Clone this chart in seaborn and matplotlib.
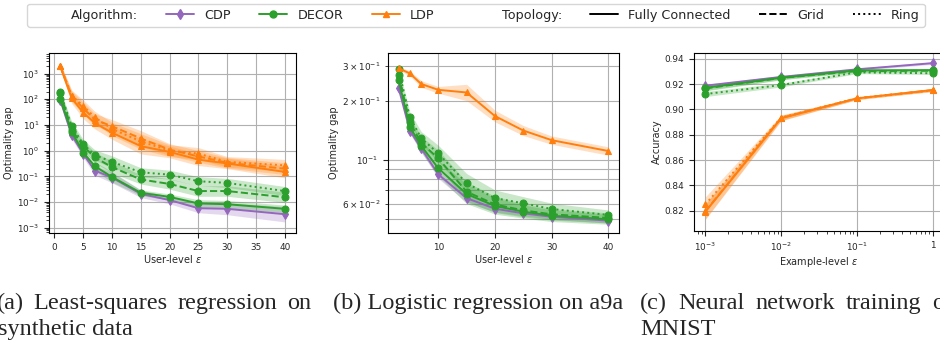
import numpy as np
import matplotlib
matplotlib.use("Agg")
import matplotlib.pyplot as plt
from matplotlib.lines import Line2D
import seaborn as sns

# (a) least-squares regression, synthetic data
a_eps = [1, 3, 5, 7, 10, 15, 20, 25, 30, 40]
a_cdp = [95, 4.0, 0.75, 0.17, 0.09, 0.021, 0.012, 0.0058, 0.0055, 0.0034]
a_decor_fc = [100, 5.4, 0.85, 0.25, 0.095, 0.023, 0.016, 0.0089, 0.0083, 0.0055]
a_decor_grid = [170, 6.5, 1.5, 0.55, 0.23, 0.076, 0.051, 0.027, 0.027, 0.0155]
a_decor_ring = [185, 9.0, 1.8, 0.68, 0.37, 0.145, 0.117, 0.065, 0.056, 0.027]
a_ldp_fc = [1900, 110, 30, 12, 5.0, 1.5, 0.9, 0.45, 0.32, 0.15]
a_ldp_grid = [2000, 130, 45, 16, 9.0, 3.0, 1.1, 0.6, 0.34, 0.2]
a_ldp_ring = [1950, 140, 55, 20, 7.0, 2.3, 1.0, 0.78, 0.37, 0.27]
# band half-widths (multiplicative)
a_cdp_sp = [1.3, 1.4, 1.4, 1.5, 1.6, 1.4, 1.4, 1.5, 1.7, 2.0]
a_decor_fc_sp = [1.3, 1.4, 1.4, 1.5, 1.6, 1.3, 1.3, 1.4, 1.4, 1.4]
a_decor_grid_sp = [1.3, 1.5, 1.5, 1.6, 1.7, 1.5, 1.6, 1.6, 1.6, 1.6]
a_decor_ring_sp = [1.3, 1.5, 1.5, 1.6, 1.7, 1.5, 1.5, 1.5, 1.5, 1.5]
a_ldp_sp = [1.3, 1.6, 1.7, 1.7, 1.8, 2.0, 1.7, 1.7, 1.6, 1.7]

# (b) logistic regression on a9a
b_eps = [3, 5, 7, 10, 15, 20, 25, 30, 40]
b_cdp = [0.233, 0.141, 0.1146, 0.0846, 0.064, 0.0566, 0.0536, 0.0515, 0.0492]
b_decor_fc = [0.255, 0.147, 0.118, 0.0908, 0.0672, 0.0584, 0.0547, 0.0521, 0.050]
b_decor_grid = [0.27, 0.155, 0.122, 0.102, 0.069, 0.0595, 0.0555, 0.053, 0.0508]
b_decor_ring = [0.289, 0.165, 0.129, 0.108, 0.0762, 0.064, 0.0603, 0.0564, 0.0526]
b_ldp = [0.292, 0.275, 0.243, 0.227, 0.22, 0.167, 0.141, 0.126, 0.111]
b_cdp_sp = [1.02, 1.04, 1.04, 1.05, 1.05, 1.04, 1.03, 1.03, 1.03]
b_decor_sp = [1.03, 1.06, 1.08, 1.1, 1.12, 1.1, 1.08, 1.07, 1.06]
b_ldp_sp = [1.02, 1.03, 1.04, 1.04, 1.1, 1.07, 1.06, 1.05, 1.05]

# (c) neural network training on MNIST
c_eps = [1e-3, 1e-2, 1e-1, 1]
c_ticklabels = ["$10^{-3}$", "$10^{-2}$", "$10^{-1}$", "1"]
c_cdp = [0.9187, 0.9256, 0.9316, 0.9365]
c_decor_fc = [0.917, 0.925, 0.9308, 0.931]
c_decor_grid = [0.9165, 0.9248, 0.9302, 0.9305]
c_decor_ring = [0.9121, 0.9192, 0.9292, 0.9285]
c_ldp_fc = [0.8192, 0.893, 0.9087, 0.9153]
c_ldp_grid = [0.8195, 0.8932, 0.9087, 0.9152]
c_ldp_ring = [0.825, 0.8935, 0.9088, 0.915]
c_cdp_sp = [0.001, 0.001, 0.001, 0.001]
c_decor_sp = [0.002, 0.0015, 0.001, 0.001]
c_ldp_sp = [0.006, 0.002, 0.001, 0.001]

COLORS = {"CDP": "#9467bd", "DECOR": "#2ca02c", "LDP": "#ff7f0e"}
MARKERS = {"CDP": "d", "DECOR": "o", "LDP": "^"}
LS = {"fc": "-", "grid": "--", "ring": ":"}

sns.set_style("ticks", {"axes.grid": True, "grid.color": "#b0b0b0",
                        "axes.edgecolor": "black"})
plt.rcParams["font.family"] = ["DejaVu Sans"]
plt.rcParams["xtick.labelsize"] = 6.4
plt.rcParams["ytick.labelsize"] = 6.4
plt.rcParams["axes.labelsize"] = 7
plt.rcParams["mathtext.fontset"] = "dejavusans"

W, H = 940, 341
fig = plt.figure(figsize=(W / 100, H / 100), dpi=100)


def px_axes(x0, x1, y0, y1):
    return fig.add_axes([x0 / W, 1 - y1 / H, (x1 - x0) / W, (y1 - y0) / H])


def draw(ax, x, y, sp, alg, topo, log=True):
    y = np.asarray(y, dtype=float)
    sp = np.asarray(sp, dtype=float)
    lo, hi = (y / sp, y * sp) if log else (y - sp, y + sp)
    c = COLORS[alg]
    ax.fill_between(x, lo, hi, color=c, alpha=0.25, lw=0)
    sns.lineplot(x=x, y=y, color=c, marker=MARKERS[alg], linestyle=LS[topo],
                 lw=1.4, markersize=5, markeredgecolor=c, ax=ax)


# ---- (a)
ax = px_axes(49, 296, 53, 233)
ax.set_yscale("log")
draw(ax, a_eps, a_cdp, a_cdp_sp, "CDP", "fc")
draw(ax, a_eps, a_decor_fc, a_decor_fc_sp, "DECOR", "fc")
draw(ax, a_eps, a_decor_grid, a_decor_grid_sp, "DECOR", "grid")
draw(ax, a_eps, a_decor_ring, a_decor_ring_sp, "DECOR", "ring")
draw(ax, a_eps, a_ldp_fc, a_ldp_sp, "LDP", "fc")
draw(ax, a_eps, a_ldp_grid, a_ldp_sp, "LDP", "grid")
draw(ax, a_eps, a_ldp_ring, a_ldp_sp, "LDP", "ring")
ax.set_ylim(10 ** -3.2, 10 ** 3.8)
ax.set_xticks([0, 5, 10, 15, 20, 25, 30, 35, 40])
ax.set_xlabel(r"User-level $\varepsilon$", labelpad=1)
ax.set_ylabel("Optimality gap", labelpad=2)
ax.grid(True, which="major")

# ---- (b)
ax = px_axes(388, 619, 53, 233)
ax.set_yscale("log")
draw(ax, b_eps, b_cdp, b_cdp_sp, "CDP", "fc")
draw(ax, b_eps, b_decor_ring, b_decor_sp, "DECOR", "ring")
draw(ax, b_eps, b_decor_grid, b_decor_sp, "DECOR", "grid")
draw(ax, b_eps, b_decor_fc, b_decor_sp, "DECOR", "fc")
draw(ax, b_eps, b_ldp, b_ldp_sp, "LDP", "fc")
ax.set_ylim(0.0426, 0.349)
ax.set_xlabel(r"User-level $\varepsilon$", labelpad=1)
ax.set_ylabel("Optimality gap", labelpad=2)
ax.grid(True, which="both")

# ---- (c)
ax = px_axes(694, 944, 53, 231)
ax.set_xscale("log")
draw(ax, c_eps, c_cdp, c_cdp_sp, "CDP", "fc", log=False)
draw(ax, c_eps, c_decor_fc, c_decor_sp, "DECOR", "fc", log=False)
draw(ax, c_eps, c_decor_grid, c_decor_sp, "DECOR", "grid", log=False)
draw(ax, c_eps, c_decor_ring, c_decor_sp, "DECOR", "ring", log=False)
draw(ax, c_eps, c_ldp_fc, c_ldp_sp, "LDP", "fc", log=False)
draw(ax, c_eps, c_ldp_grid, c_ldp_sp, "LDP", "grid", log=False)
draw(ax, c_eps, c_ldp_ring, c_ldp_sp, "LDP", "ring", log=False)
ax.set_xticks(c_eps)
ax.set_xticklabels(c_ticklabels)
ax.set_ylim(0.804, 0.9445)
ax.set_xlabel(r"Example-level $\varepsilon$", labelpad=1)
ax.set_ylabel("Accuracy", labelpad=2)
ax.grid(True, which="major")

# ---- shared legend
blank = Line2D([], [], linestyle="none")
handles = [blank]
for alg in ["CDP", "DECOR", "LDP"]:
    handles.append(Line2D([], [], color=COLORS[alg], marker=MARKERS[alg],
                          markersize=5, lw=1.4))
handles.append(blank)
for topo in ["fc", "grid", "ring"]:
    handles.append(Line2D([], [], color="black", linestyle=LS[topo], lw=1.4))
labels = ["Algorithm:", "CDP", "DECOR", "LDP",
          "Topology:", "Fully Connected", "Grid", "Ring"]
fig.legend(handles, labels, ncol=8, loc="lower left", mode="expand",
           bbox_to_anchor=(27 / W, 1 - 27 / H, 898 / W, 24 / H),
           fontsize=9.2, handlelength=2.2, borderaxespad=0, frameon=True)

# ---- sub-captions
cap_kw = dict(family="Liberation Serif", fontsize=17.5, va="baseline")
renderer = fig.canvas.get_renderer()


def caption(text, x0, y, x1=None):
    if x1 is None:
        fig.text(x0 / W, 1 - y / H, text, **cap_kw)
        return
    words = text.split()
    items = [fig.text(0, 1 - y / H, w, **cap_kw) for w in words]
    widths = [t.get_window_extent(renderer).width for t in items]
    gap = (x1 - x0 - sum(widths)) / (len(words) - 1)
    x = x0
    for t, w in zip(items, widths):
        t.set_x(x / W)
        x += w + gap


caption("(a) Least-squares regression on", -3, 309, 311)
caption("synthetic data", -2, 335)
caption("(b) Logistic regression on a9a", 333, 309)
caption("(c) Neural network training on", 640, 309, 956)
caption("MNIST", 640, 335)

fig.savefig("out.png", dpi=100)
